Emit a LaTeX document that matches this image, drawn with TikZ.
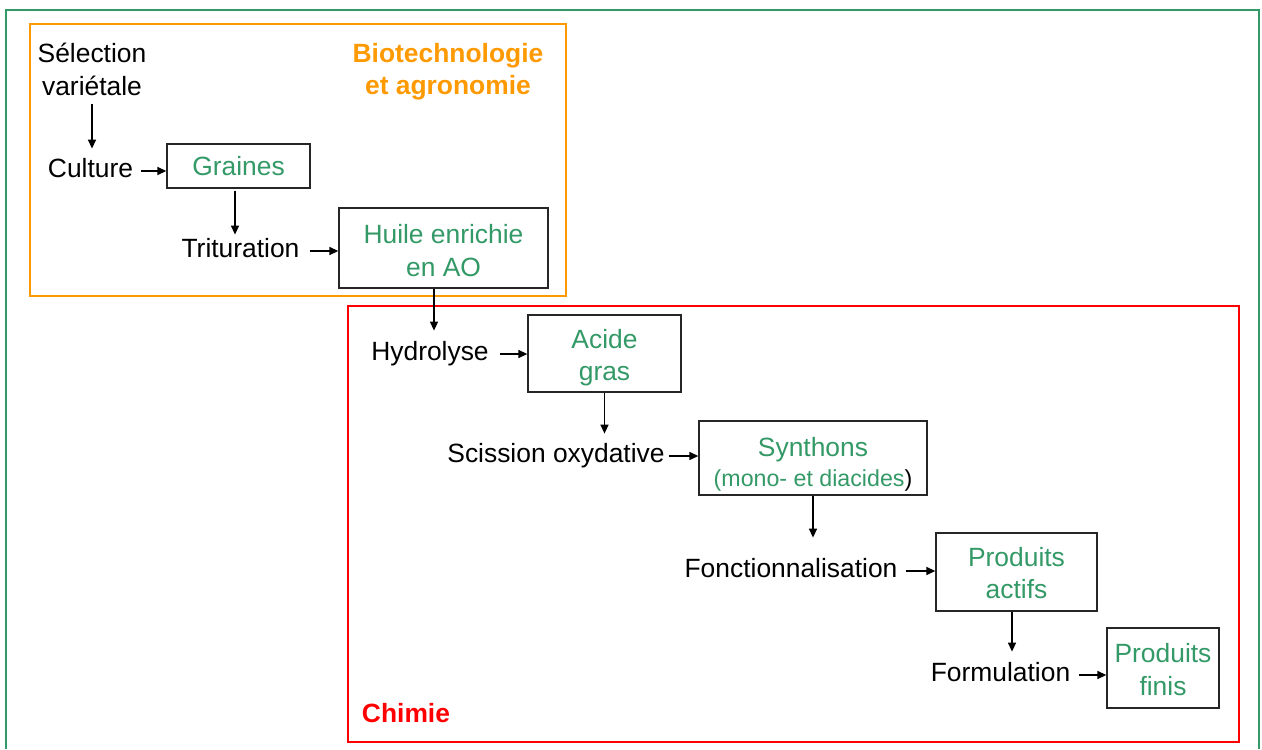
\documentclass[tikz,border=0pt]{standalone}
\usepackage{fontspec}
\setmainfont{Liberation Sans}
\usetikzlibrary{arrows.meta}

\definecolor{vert}{RGB}{51,153,102}
\definecolor{orangebio}{RGB}{255,153,0}
\definecolor{rouge}{RGB}{255,0,0}

\begin{document}
\begin{tikzpicture}[x=0.5pt,y=-0.5pt,
  font=\fontsize{13.2}{16.5}\selectfont,
  etape/.style={draw=black!85, line width=0.65pt, text=vert, align=center, inner sep=0pt},
  lab/.style={text height=9pt, text depth=3pt, inner sep=2pt},
  titre/.style={font=\fontsize{13.2}{16}\selectfont\bfseries, align=center},
  fl/.style={-{Triangle[length=4.5pt,width=4pt]}, line width=0.7pt, shorten <=2pt}]
\path[use as bounding box] (0,0) rectangle (1262,749);

% cadres
\draw[vert, line width=1pt] (6,749) -- (6,10) -- (1259,10) -- (1259,749);
\draw[orangebio, line width=1.2pt] (30,24) rectangle (566,296);
\draw[rouge, line width=1.2pt] (348,306) rectangle (1239,742);

\node[titre, text=orangebio] (bio) at (448,72) {Biotechnologie\\et agronomie};
\node[titre, text=rouge] (chimie) at (406,713) {Chimie};

% etapes du procede
\node[align=center, inner sep=2pt] (selection) at (92,69) {Sélection\\variétale};
\node[lab] (culture) at (90.5,171) {Culture};
\node[lab] (trituration) at (240.5,251) {Trituration};
\node[lab] (hydrolyse) at (430,354) {Hydrolyse};
\node[lab] (scission) at (556,456) {Scission oxydative};
\node[lab] (fonction) at (791,571) {Fonctionnalisation};
\node[lab] (formulation) at (1000.5,675) {Formulation};

% produits (le \rule descend un peu le texte dans la boite)
\node[etape, minimum width=71.5pt, minimum height=22pt] (graines) at (238.5,166) {Graines};
\node[etape, minimum width=104.5pt, minimum height=40pt] (huile) at (443.5,248) {\rule{0pt}{12pt}Huile enrichie\\en AO};
\node[etape, minimum width=76.5pt, minimum height=38.5pt] (acide) at (604.5,353.5) {\rule{0pt}{14pt}Acide\\[-0.5pt]gras};
\node[etape, minimum width=114pt, minimum height=37pt] (synthons) at (813,458)
  {\rule{0pt}{15.5pt}Synthons\\[-1.5pt]{\fontsize{11.6}{14}\selectfont(mono- et diacides\textcolor{black}{)}}};
\node[etape, minimum width=80.5pt, minimum height=39pt] (actifs) at (1016.5,572) {\rule{0pt}{11pt}Produits\\[-0.5pt]actifs};
\node[etape, minimum width=56pt, minimum height=40pt] (finis) at (1163,668) {\rule{0pt}{11.5pt}Produits\\finis};

\draw[fl, shorten >=3pt] (selection.south) -- (selection.south |- culture.north);
\draw[fl] (culture.east) -- (culture.east -| graines.west);
\draw[fl, shorten <=1pt] ([xshift=-1.75pt]graines.south) -- ([xshift=-1.75pt]graines.south |- trituration.north);
\draw[fl, shorten <=3pt] (trituration.east) -- (trituration.east -| huile.west);
\draw[fl, shorten <=0pt, shorten >=3.5pt] ([xshift=-4.75pt]huile.south) -- ([xshift=-4.75pt]huile.south |- hydrolyse.north);
\draw[fl, shorten <=3.5pt] (hydrolyse.east) -- (hydrolyse.east -| acide.west);
\draw[fl, shorten <=0pt, shorten >=3pt] (acide.south) -- (acide.south |- scission.north);
\draw[fl, shorten <=0pt] (scission.east) -- (scission.east -| synthons.west);
\draw[fl, shorten <=0pt, shorten >=8.5pt] (synthons.south) -- (synthons.south |- fonction.north);
\draw[fl] (fonction.east) -- (fonction.east -| actifs.west);
\draw[fl, shorten <=0pt, shorten >=3.5pt] ([xshift=-2.25pt]actifs.south) -- ([xshift=-2.25pt]actifs.south |- formulation.north);
\draw[fl] (formulation.east) -- (formulation.east -| finis.west);
\end{tikzpicture}
\end{document}
